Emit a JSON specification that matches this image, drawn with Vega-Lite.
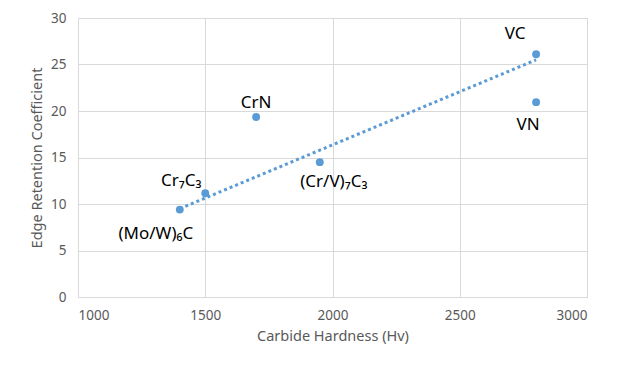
{
  "$schema": "https://vega.github.io/schema/vega-lite/v6.json",
  "width": 509,
  "height": 279,
  "autosize": {"type": "none"},
  "padding": {"left": 78, "top": 18, "right": 37, "bottom": 78},
  "background": "white",
  "datasets": {
    "pts": [
      {"name": "(Mo/W)₆C", "hardness": 1400, "coef": 9.4},
      {"name": "Cr₇C₃", "hardness": 1500, "coef": 11.15},
      {"name": "CrN", "hardness": 1700, "coef": 19.35},
      {"name": "(Cr/V)₇C₃", "hardness": 1950, "coef": 14.5},
      {"name": "VC", "hardness": 2800, "coef": 26.1},
      {"name": "VN", "hardness": 2800, "coef": 20.95}
    ],
    "trend": [
      {"hardness": 1400, "coef": 9.5},
      {"hardness": 2800, "coef": 25.5}
    ]
  },
  "encoding": {
    "x": {
      "field": "hardness", "type": "quantitative",
      "scale": {"domain": [1000, 3000], "nice": false, "zero": false},
      "axis": {"values": [1000, 1500, 2000, 2500, 3000], "format": "d", "title": "Carbide Hardness (Hv)"}
    },
    "y": {
      "field": "coef", "type": "quantitative",
      "scale": {"domain": [0, 30], "nice": false},
      "axis": {"values": [0, 5, 10, 15, 20, 25, 30], "format": "d", "title": "Edge Retention Coefficient"}
    }
  },
  "layer": [
    {
      "data": {"name": "trend"},
      "mark": {"type": "line", "color": "#5B9BD5", "strokeWidth": 3, "strokeDash": [3, 3], "strokeCap": "butt"}
    },
    {
      "data": {"name": "pts"},
      "mark": {"type": "circle", "color": "#5B9BD5", "opacity": 1, "size": 62}
    },
    {
      "data": {"name": "pts"},
      "transform": [{"filter": "datum.name == 'VC'"}],
      "mark": {"type": "text", "font": "Noto Sans", "fontSize": 17, "color": "#000000", "dx": -21, "dy": -20},
      "encoding": {"text": {"field": "name"}}
    },
    {
      "data": {"name": "pts"},
      "transform": [{"filter": "datum.name == 'VN'"}],
      "mark": {"type": "text", "font": "Noto Sans", "fontSize": 17, "color": "#000000", "dx": -8, "dy": 23},
      "encoding": {"text": {"field": "name"}}
    },
    {
      "data": {"name": "pts"},
      "transform": [{"filter": "datum.name == 'CrN'"}],
      "mark": {"type": "text", "font": "Noto Sans", "fontSize": 17, "color": "#000000", "dx": 0, "dy": -14},
      "encoding": {"text": {"field": "name"}}
    },
    {
      "data": {"name": "pts"},
      "transform": [{"filter": "datum.name == 'Cr₇C₃'"}],
      "mark": {"type": "text", "font": "Noto Sans", "fontSize": 17, "color": "#000000", "dx": -24, "dy": -12},
      "encoding": {"text": {"field": "name"}}
    },
    {
      "data": {"name": "pts"},
      "transform": [{"filter": "datum.name == '(Cr/V)₇C₃'"}],
      "mark": {"type": "text", "font": "Noto Sans", "fontSize": 17, "color": "#000000", "dx": 14, "dy": 20},
      "encoding": {"text": {"field": "name"}}
    },
    {
      "data": {"name": "pts"},
      "transform": [{"filter": "datum.name == '(Mo/W)₆C'"}],
      "mark": {"type": "text", "font": "Noto Sans", "fontSize": 17, "color": "#000000", "dx": -24, "dy": 24},
      "encoding": {"text": {"field": "name"}}
    }
  ],
  "config": {
    "view": {"stroke": "#D9D9D9", "strokeWidth": 1},
    "axis": {
      "grid": true,
      "gridColor": "#D9D9D9",
      "gridWidth": 1,
      "domainColor": "#D9D9D9",
      "ticks": false,
      "labelFont": "Noto Sans",
      "labelFontSize": 13.5,
      "labelColor": "#595959",
      "titleFont": "Noto Sans",
      "titleFontSize": 14.5,
      "titleFontWeight": "normal",
      "titleColor": "#595959"
    },
    "axisX": {"labelPadding": 11, "titlePadding": 8},
    "axisY": {"labelPadding": 12, "titlePadding": 6}
  }
}
